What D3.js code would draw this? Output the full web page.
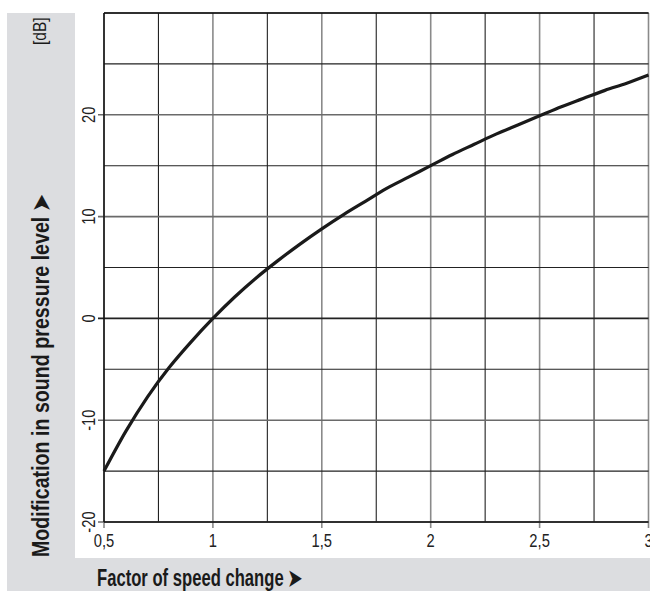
<!DOCTYPE html>
<html><head><meta charset="utf-8">
<script src="https://cdn.jsdelivr.net/npm/d3@7"></script>
<style>body{margin:0;background:#fff}svg{display:block}</style>
</head><body>
<script>
// Data
const speedFactor = [0.5,0.6,0.7,0.8,0.9,1.0,1.1,1.2,1.3,1.4,1.5,1.6,1.7,1.8,1.9,2.0,2.1,2.2,2.3,2.4,2.5,2.6,2.7,2.8,2.9,3.0];
const levelChange = [-15.0,-11.1,-7.7,-4.8,-2.3,0,2.1,4.0,5.7,7.3,8.8,10.2,11.5,12.8,13.9,15.0,16.1,17.1,18.1,19.0,19.9,20.8,21.6,22.4,23.1,23.9];
const xTicks = [0.5,1,1.5,2,2.5,3];
const xTickLabels = ["0,5","1","1,5","2","2,5","3"];
const xGrid = [0.5,0.75,1,1.25,1.5,1.75,2,2.25,2.5,2.75,3];
const yTicks = [-20,-10,0,10,20];
const yTickLabels = ["-20","-10","0","10","20"];
const yGrid = [-20,-15,-10,-5,0,5,10,15,20,25,30];
const xTitle = "Factor of speed change ➤";
const yTitle = "Modification in sound pressure level ➤";
const unitLabel = "[dB]";

const W = 650, H = 591;
const svg = d3.select("body").append("svg").attr("width", W).attr("height", H);
const FN = "'Liberation Sans','Arial',sans-serif";
const SX = 0.82;

// grey panels
svg.append("rect").attr("x",7).attr("y",13).attr("width",68).attr("height",H-13).attr("fill","#dcdde0");
svg.append("rect").attr("x",7).attr("y",558).attr("width",W-7).attr("height",H-558).attr("fill","#dcdde0");

const x = d3.scaleLinear().domain([0.5,3]).range([104,648.5]);
const y = d3.scaleLinear().domain([-20,30]).range([522,13]);

const g = svg.append("g");
// vertical grid
g.selectAll(".vg").data(xGrid).join("line")
  .attr("x1",d=>x(d)).attr("x2",d=>x(d))
  .attr("y1",y(30)).attr("y2",d=>xTicks.includes(d)?528:y(-20))
  .attr("stroke",d=>xTicks.includes(d)?"#8a8a8a":"#222")
  .attr("stroke-width",d=>xTicks.includes(d)?1.6:1.1);
// horizontal grid
g.selectAll(".hg").data(yGrid).join("line")
  .attr("x1",d=>yTicks.includes(d)?98:x(0.5)).attr("x2",x(3))
  .attr("y1",d=>y(d)).attr("y2",d=>y(d))
  .attr("stroke",d=>d===0?"#222":(yTicks.includes(d)?"#6a6a6a":"#222"))
  .attr("stroke-width",d=>d===0?1.8:(yTicks.includes(d)?1.6:1.1));
// frame lines
g.append("line").attr("x1",x(0.5)).attr("x2",x(3)).attr("y1",y(-20)).attr("y2",y(-20)).attr("stroke","#111").attr("stroke-width",1.5);
g.append("line").attr("x1",x(0.5)).attr("x2",x(3)).attr("y1",y(30)).attr("y2",y(30)).attr("stroke","#111").attr("stroke-width",1.3);
g.append("line").attr("x1",x(0.5)).attr("x2",x(0.5)).attr("y1",y(30)).attr("y2",y(-20)).attr("stroke","#111").attr("stroke-width",1.5);

// curve
const pts = speedFactor.map((v,i)=>[v,levelChange[i]]);
g.append("path").datum(pts)
  .attr("d", d3.line().x(d=>x(d[0])).y(d=>y(d[1])).curve(d3.curveMonotoneX))
  .attr("fill","none").attr("stroke","#1a1a1a").attr("stroke-width",3.2);

// x tick labels
svg.selectAll(".xl").data(xTicks).join("text")
  .attr("transform",d=>`translate(${x(d)},547) scale(${SX},1)`)
  .attr("text-anchor","middle").attr("font-family",FN).attr("font-size",18).attr("fill","#222")
  .text((d,i)=>xTickLabels[i]);
// y tick labels
svg.selectAll(".yl").data(yTicks).join("text")
  .attr("transform",d=>`translate(95,${y(d)}) rotate(-90) scale(${SX},1)`)
  .attr("text-anchor","middle").attr("font-family",FN).attr("font-size",18).attr("fill","#222")
  .text((d,i)=>yTickLabels[i]);

// titles
svg.append("text").attr("x",97).attr("y",586)
  .attr("font-family",FN).attr("font-weight","bold").attr("font-size",23).attr("fill","#1a1a1a")
  .attr("textLength",205).attr("lengthAdjust","spacingAndGlyphs")
  .text(xTitle);
svg.append("text").attr("transform","translate(49,557) rotate(-90)")
  .attr("font-family",FN).attr("font-weight","bold").attr("font-size",23).attr("fill","#1a1a1a")
  .attr("textLength",362).attr("lengthAdjust","spacingAndGlyphs")
  .text(yTitle);
svg.append("text").attr("transform",`translate(46,45) rotate(-90) scale(${SX},1)`)
  .attr("font-family",FN).attr("font-size",19).attr("fill","#1a1a1a")
  .text(unitLabel);
</script>
</body></html>
